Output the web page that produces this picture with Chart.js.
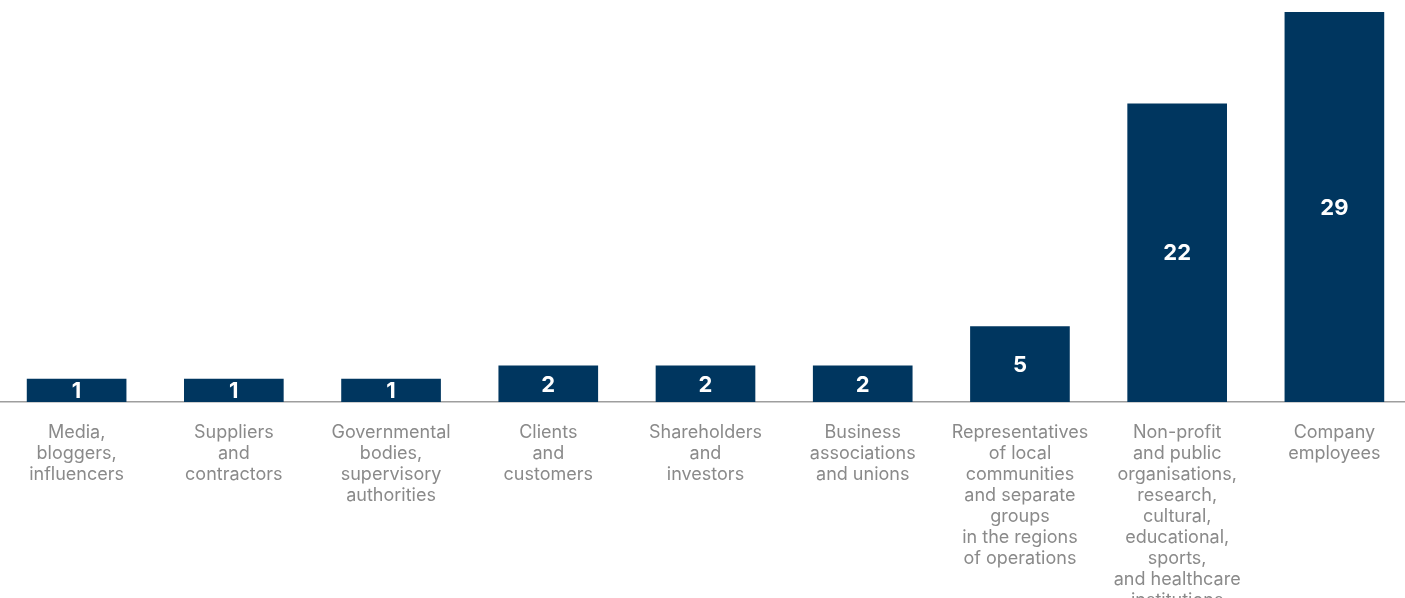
<!DOCTYPE html>
<html>
<head>
<meta charset="utf-8">
<script src="https://cdn.jsdelivr.net/npm/chart.js@4.4.1/dist/chart.umd.min.js"></script>
<style>
  html, body { margin: 0; padding: 0; background: #ffffff; overflow: hidden; }
  #wrap { position: relative; width: 1405px; height: 598px; overflow: hidden; }
  #c { position: absolute; left: -2px; top: 0; }
</style>
</head>
<body>
<div id="wrap"><canvas id="c" width="1415" height="598"></canvas></div>
<script>
// Categories (multi-line tick labels)
const categories = [
  ["Media,", "bloggers,", "influencers"],
  ["Suppliers", "and", "contractors"],
  ["Governmental", "bodies,", "supervisory", "authorities"],
  ["Clients", "and", "customers"],
  ["Shareholders", "and", "investors"],
  ["Business", "associations", "and unions"],
  ["Representatives", "of local", "communities", "and separate", "groups", "in the regions", "of operations"],
  ["Non-profit", "and public", "organisations,", "research,", "cultural,", "educational,", "sports,", "and healthcare", "institutions"],
  ["Company", "employees"]
];
// Values printed on the bars
const values = [1, 1, 1, 2, 2, 2, 5, 22, 29];
// Value-axis range
const yMin = -0.75;
const yMax = 29;

const barColor = "#00365f";

const valueLabelPlugin = {
  id: "valueLabels",
  afterDatasetsDraw(chart) {
    const ctx = chart.ctx;
    const meta = chart.getDatasetMeta(0);
    ctx.save();
    ctx.fillStyle = "#ffffff";
    ctx.font = "bold 22px Inter, 'Liberation Sans', sans-serif";
    ctx.textAlign = "center";
    ctx.textBaseline = "middle";
    meta.data.forEach((bar, i) => {
      const p = bar.getProps(["x", "y", "base"], true);
      ctx.fillText(String(values[i]), p.x, (p.y + p.base) / 2 + 1);
    });
    ctx.restore();
  }
};

new Chart(document.getElementById("c"), {
  type: "bar",
  data: {
    labels: categories,
    datasets: [{
      data: values,
      base: yMin,
      backgroundColor: barColor,
      borderWidth: 0,
      barThickness: 99
    }]
  },
  options: {
    responsive: false,
    animation: false,
    layout: { padding: { top: 12, left: 0, right: 0, bottom: 0 } },
    plugins: {
      legend: { display: false },
      tooltip: { enabled: false }
    },
    scales: {
      x: {
        afterFit(scale) { scale.height = 196; },
        grid: { display: false, drawTicks: false },
        border: { display: true, color: "#9e9e9e", width: 1.5 },
        ticks: {
          color: "#8a8a8a",
          font: { family: "Inter, 'Liberation Sans', sans-serif", size: 18, lineHeight: 1.17 },
          padding: 20,
          maxRotation: 0,
          autoSkip: false
        }
      },
      y: {
        display: false,
        min: yMin,
        max: yMax
      }
    }
  },
  plugins: [valueLabelPlugin]
});
</script>
</body>
</html>
